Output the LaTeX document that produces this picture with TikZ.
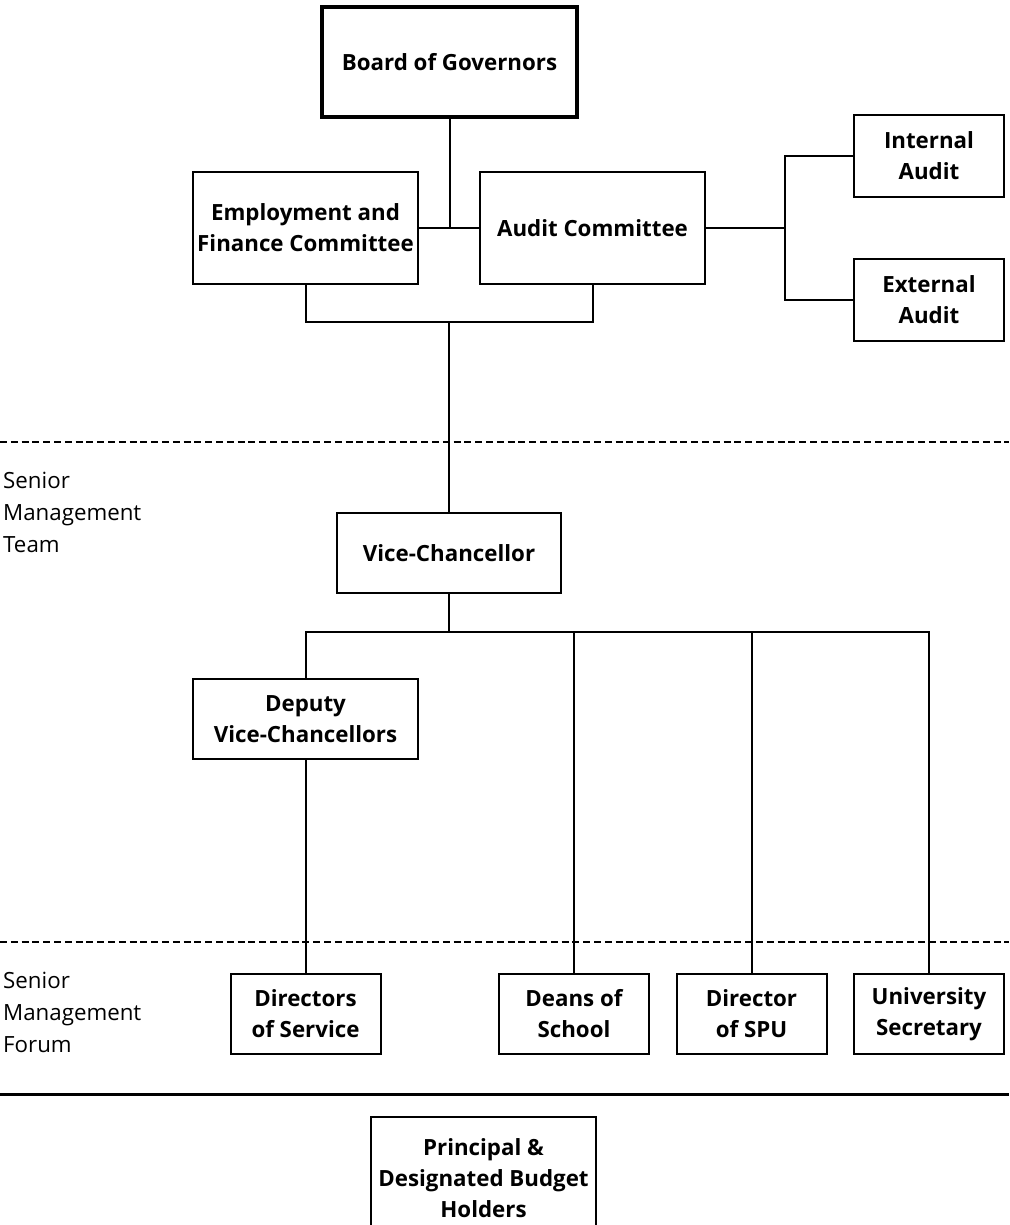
\documentclass[tikz,border=0pt]{standalone}
\usepackage{fontspec}
\setmainfont{Open Sans}
\usepackage{tikz}
\usetikzlibrary{positioning, calc}

\begin{document}
\begin{tikzpicture}[
    x=1pt, y=-1pt,
    font=\fontsize{22.3}{31}\selectfont,
    unit/.style={
        draw,
        line width=2pt,
        fill=white,
        align=center,
        inner sep=2pt,
        font=\fontsize{22.3}{31}\selectfont\bfseries
    },
    wire/.style={
        line width=2pt
    },
    divider/.style={
        line width=2.7pt,
        dash pattern=on 7pt off 3.8pt
    },
    tier/.style={
        anchor=north west,
        align=left,
        inner sep=0pt,
        font=\fontsize{22.3}{32}\selectfont
    }
]

\useasboundingbox (0,0) rectangle (1009,1225);
\clip (0,0) rectangle (1009,1225);

% Governance Level
\node[unit, line width=3.5pt, minimum width=255pt, minimum height=110pt] (board) at (449.5,62) {Board of Governors};
\node[unit, minimum width=225pt, minimum height=112pt] (efc) at (305.5,228) {Employment and\\Finance Committee};
\node[unit, minimum width=225pt, minimum height=112pt] (audit) at (592.5,228) {Audit Committee};
\node[unit, minimum width=150pt, minimum height=82pt] (internal) at (929,156) {Internal\\Audit};
\node[unit, minimum width=150pt, minimum height=82pt] (external) at (929,300) {External\\Audit};

% Governance Connections
\draw[wire] (board.south) -- (board.south |- efc.east);
\draw[wire] (efc.east) -- (audit.west);
\coordinate (audit_fork) at (785,228);
\draw[wire] (audit.east) -- (audit_fork);
\draw[wire] (internal.west) -| (audit_fork) |- (external.west);
\coordinate (committee_join) at (449,322);
\draw[wire] (efc.south) |- (committee_join) -| (audit.south);

% Divider lines
\draw[divider] (0,442) -- (1009,442);
\draw[divider] (0,942) -- (1009,942);
\draw[line width=3pt] (0,1094) -- (1009,1094);

% Tier labels
\node[tier] (smt) at (3,472) {Senior\\Management\\Team};
\node[tier] (smf) at (3,972) {Senior\\Management\\Forum};

% Senior Management Team
\node[unit, minimum width=224pt, minimum height=80pt] (vc) at (449,553) {Vice-Chancellor};
\node[unit, minimum width=225pt, minimum height=80pt] (dvc) at (305.5,719) {Deputy\\Vice-Chancellors};
\draw[wire] (committee_join) -- (vc.north);

% Senior Management Forum
\foreach \name/\x/\txt in {dos/305.5/Directors\\of Service, deans/574/Deans of\\School, spu/751.5/Director\\of SPU, usec/929/University\\Secretary} {
    \node[unit, minimum width=150pt, minimum height=80pt] (\name) at (\x,1014) {\txt};
}

% Budget Holders
\node[unit, minimum width=225pt, minimum height=122pt] (budget) at (483.5,1178) {Principal \&\\Designated Budget\\Holders};

% Management Connections
\coordinate (vc_bus) at (449,632);
\draw[wire] (vc.south) -- (vc_bus);
\draw[wire] (dvc.north) |- (usec.north |- vc_bus) -- (usec.north);
\foreach \name in {deans, spu} {
    \draw[wire] (\name.north |- vc_bus) -- (\name.north);
}
\draw[wire] (dvc.south) -- (dos.north);

\end{tikzpicture}
\end{document}
